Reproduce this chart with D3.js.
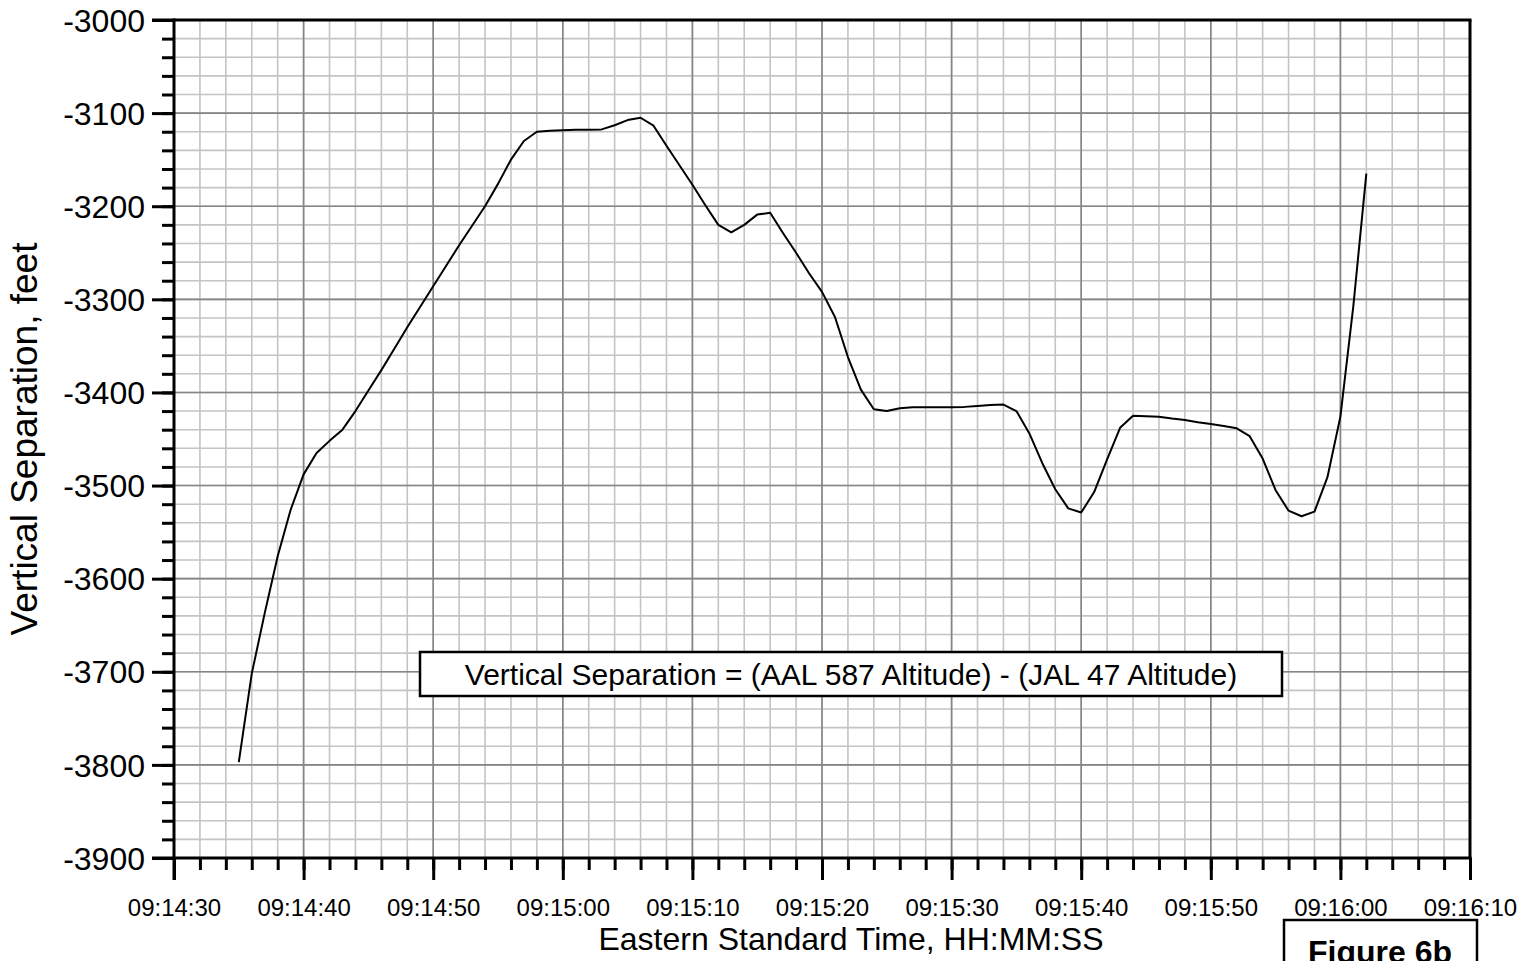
<!DOCTYPE html>
<html>
<head>
<meta charset="utf-8">
<script src="https://cdn.jsdelivr.net/npm/d3@7"></script>
<style>
  html, body { margin: 0; padding: 0; background: #fff; }
  svg { display: block; }
  text { font-family: "Liberation Sans", Arial, Helvetica, sans-serif; fill: #000; }
</style>
</head>
<body>
<svg id="chart" width="1538" height="961"></svg>
<script>
// Sample times (EST) and vertical separation, feet
const times = [
  "09:14:35","09:14:36","09:14:37","09:14:38","09:14:39","09:14:40","09:14:41","09:14:42","09:14:43","09:14:44",
  "09:14:45","09:14:46","09:14:47","09:14:48","09:14:49","09:14:50","09:14:51","09:14:52","09:14:53","09:14:54",
  "09:14:55","09:14:56","09:14:57","09:14:58","09:14:59","09:15:00","09:15:01","09:15:02","09:15:03","09:15:04",
  "09:15:05","09:15:06","09:15:07","09:15:08","09:15:09","09:15:10","09:15:11","09:15:12","09:15:13","09:15:14",
  "09:15:15","09:15:16","09:15:17","09:15:18","09:15:19","09:15:20","09:15:21","09:15:22","09:15:23","09:15:24",
  "09:15:25","09:15:26","09:15:27","09:15:28","09:15:29","09:15:30","09:15:31","09:15:32","09:15:33","09:15:34",
  "09:15:35","09:15:36","09:15:37","09:15:38","09:15:39","09:15:40","09:15:41","09:15:42","09:15:43","09:15:44",
  "09:15:45","09:15:46","09:15:47","09:15:48","09:15:49","09:15:50","09:15:51","09:15:52","09:15:53","09:15:54",
  "09:15:55","09:15:56","09:15:57","09:15:58","09:15:59","09:16:00","09:16:01","09:16:02"
];
const separation = [
  -3797, -3702, -3637, -3576, -3526, -3488, -3465, -3452, -3440, -3420,
  -3398, -3376, -3353, -3330, -3308, -3286, -3264, -3242, -3221, -3200,
  -3176, -3150, -3130, -3120, -3119, -3118.5, -3118, -3118, -3117.5, -3113,
  -3107.5, -3105, -3113.5, -3135, -3156, -3177, -3199, -3220, -3228, -3220,
  -3209, -3207, -3229, -3250, -3272, -3292, -3319, -3362, -3397, -3418,
  -3420, -3417, -3416, -3416, -3416, -3416, -3415.5, -3414.5, -3413.5, -3413,
  -3420, -3444, -3476, -3504, -3524.5, -3529, -3507, -3472, -3438, -3425,
  -3425.5, -3426, -3428, -3429.5, -3432, -3434, -3436, -3438.5, -3447, -3471,
  -3505, -3527, -3533, -3528, -3491, -3426, -3307, -3165
];
const xDomain = ["09:14:30", "09:16:10"];
const yDomain = [-3900, -3000];
const yTickValues = [-3900, -3800, -3700, -3600, -3500, -3400, -3300, -3200, -3100, -3000];

const xTitle = "Eastern Standard Time, HH:MM:SS";
const yTitle = "Vertical Separation, feet";
const noteText = "Vertical Separation = (AAL 587 Altitude) - (JAL 47 Altitude)";
const figureText = "Figure 6b";

const parseTime = d3.timeParse("%H:%M:%S");
const fmtTime = d3.timeFormat("%H:%M:%S");
const fmtFeet = d => String(d);   // plain hyphen-minus

const svg = d3.select("#chart");
const plot = { left: 174, top: 20, right: 1470, bottom: 858 };

const x = d3.scaleTime().domain(xDomain.map(parseTime)).range([plot.left, plot.right]);
const y = d3.scaleLinear().domain(yDomain).range([plot.bottom, plot.top]);

const majorX = d3.timeSecond.every(10).range(x.domain()[0], d3.timeSecond.offset(x.domain()[1], 1));
const minorX = d3.timeSecond.every(2).range(x.domain()[0], d3.timeSecond.offset(x.domain()[1], 1));
const minorY = d3.range(yDomain[0], yDomain[1] + 1, 20);

// Grid: light minor lines, then darker major lines
const grid = svg.append("g");
grid.selectAll(".gx-minor").data(minorX).join("line")
  .attr("x1", d => x(d)).attr("x2", d => x(d))
  .attr("y1", plot.top).attr("y2", plot.bottom)
  .attr("stroke", "#c4c4c4").attr("stroke-width", 1.6);
grid.selectAll(".gy-minor").data(minorY).join("line")
  .attr("y1", d => y(d)).attr("y2", d => y(d))
  .attr("x1", plot.left).attr("x2", plot.right)
  .attr("stroke", "#c4c4c4").attr("stroke-width", 1.6);
grid.selectAll(".gx-major").data(majorX).join("line")
  .attr("x1", d => x(d)).attr("x2", d => x(d))
  .attr("y1", plot.top).attr("y2", plot.bottom)
  .attr("stroke", "#858585").attr("stroke-width", 1.6);
grid.selectAll(".gy-major").data(yTickValues).join("line")
  .attr("y1", d => y(d)).attr("y2", d => y(d))
  .attr("x1", plot.left).attr("x2", plot.right)
  .attr("stroke", "#858585").attr("stroke-width", 1.6);

// Data line
const pts = times.map((t, i) => ({ t: parseTime(t), v: separation[i] }));
svg.append("path")
  .datum(pts)
  .attr("fill", "none")
  .attr("stroke", "#000")
  .attr("stroke-width", 2)
  .attr("stroke-linejoin", "round")
  .attr("d", d3.line().x(d => x(d.t)).y(d => y(d.v)));

// Frame: top and right borders
svg.append("line").attr("x1", plot.left - 22).attr("x2", plot.right + 1.5)
  .attr("y1", plot.top).attr("y2", plot.top).attr("stroke", "#000").attr("stroke-width", 3);
svg.append("line").attr("x1", plot.right).attr("x2", plot.right)
  .attr("y1", plot.top).attr("y2", plot.bottom).attr("stroke", "#000").attr("stroke-width", 3);

// Left axis: minor ticks every 20 ft, major every 100 ft with labels
const yMinorAxis = svg.append("g").attr("transform", `translate(${plot.left},0)`)
  .call(d3.axisLeft(y).tickValues(minorY).tickSize(12).tickFormat(""));
yMinorAxis.select(".domain").remove();
yMinorAxis.selectAll("line").attr("stroke-width", 3);

const yAxis = svg.append("g").attr("transform", `translate(${plot.left},0)`)
  .call(d3.axisLeft(y).tickValues(yTickValues).tickSize(22).tickPadding(7).tickFormat(fmtFeet));
yAxis.select(".domain").remove();
yAxis.selectAll("line").attr("stroke-width", 3);
yAxis.selectAll("text").attr("font-size", 32).attr("dy", "0.35em")
  .style("font-family", "'Liberation Sans', Arial, sans-serif");

// Bottom axis: minor ticks every 2 s, major every 10 s with labels
const xMinorAxis = svg.append("g").attr("transform", `translate(0,${plot.bottom})`)
  .call(d3.axisBottom(x).tickValues(minorX).tickSize(12).tickFormat(""));
xMinorAxis.select(".domain").remove();
xMinorAxis.selectAll("line").attr("stroke-width", 3);

const xAxis = svg.append("g").attr("transform", `translate(0,${plot.bottom})`)
  .call(d3.axisBottom(x).tickValues(majorX).tickSize(22).tickPadding(19).tickFormat(fmtTime));
xAxis.select(".domain").remove();
xAxis.selectAll("line").attr("stroke-width", 3);
xAxis.selectAll("text").attr("font-size", 24)
  .style("font-family", "'Liberation Sans', Arial, sans-serif");

// Axis lines drawn over the ticks
svg.append("line").attr("x1", plot.left).attr("x2", plot.left)
  .attr("y1", plot.top - 1.5).attr("y2", plot.bottom + 22).attr("stroke", "#000").attr("stroke-width", 3);
svg.append("line").attr("x1", plot.left - 22).attr("x2", plot.right + 1.5)
  .attr("y1", plot.bottom).attr("y2", plot.bottom).attr("stroke", "#000").attr("stroke-width", 3);

// Axis titles
svg.append("text")
  .attr("x", 851).attr("y", 950)
  .attr("text-anchor", "middle").attr("font-size", 32)
  .text(xTitle);
svg.append("text")
  .attr("transform", `translate(37,${(plot.top + plot.bottom) / 2}) rotate(-90)`)
  .attr("text-anchor", "middle").attr("font-size", 37)
  .text(yTitle);

// Definition note box
const note = svg.append("g");
note.append("rect")
  .attr("x", 420).attr("y", 652).attr("width", 862).attr("height", 44)
  .attr("fill", "#fff").attr("stroke", "#000").attr("stroke-width", 2.5);
note.append("text")
  .attr("x", 851).attr("y", 685)
  .attr("text-anchor", "middle").attr("font-size", 30)
  .text(noteText);

// Figure label box
const fig = svg.append("g");
fig.append("rect")
  .attr("x", 1284).attr("y", 920).attr("width", 193).attr("height", 60)
  .attr("fill", "#fff").attr("stroke", "#000").attr("stroke-width", 2.5);
fig.append("text")
  .attr("x", 1380).attr("y", 963)
  .attr("text-anchor", "middle").attr("font-size", 32).attr("font-weight", "bold")
  .text(figureText);
</script>
</body>
</html>
